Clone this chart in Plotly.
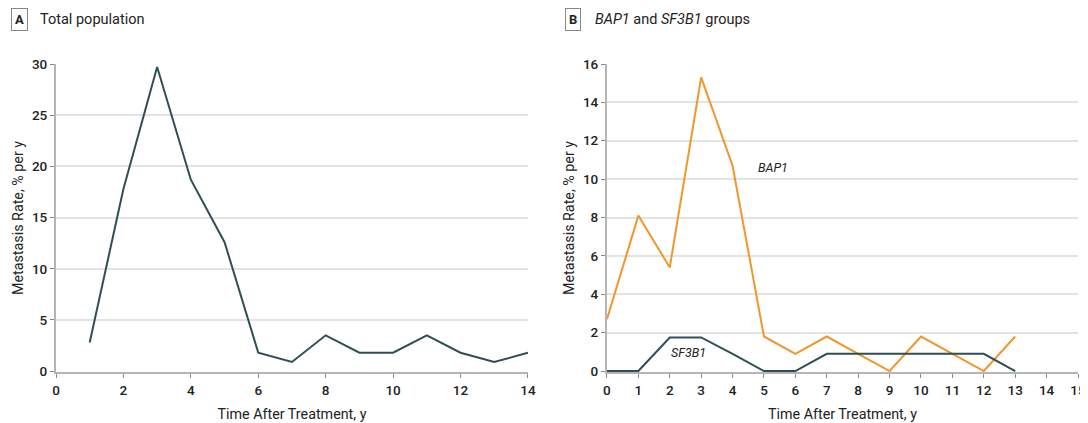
import plotly.graph_objects as go

# Data
years_a = [1, 2, 3, 4, 5, 6, 7, 8, 9, 10, 11, 12, 13, 14]
total_rate = [2.8, 17.8, 29.7, 18.7, 12.6, 1.8, 0.9, 3.5, 1.8, 1.8, 3.5, 1.8, 0.9, 1.8]

years_b = [0, 1, 2, 3, 4, 5, 6, 7, 8, 9, 10, 11, 12, 13]
bap1_rate = [2.7, 8.1, 5.4, 15.3, 10.7, 1.8, 0.9, 1.8, 0.9, 0.0, 1.8, 0.9, 0.0, 1.8]
sf3b1_rate = [0.0, 0.0, 1.75, 1.75, 0.9, 0.0, 0.0, 0.9, 0.9, 0.9, 0.9, 0.9, 0.9, 0.0]

xticks_a = [0, 2, 4, 6, 8, 10, 12, 14]
yticks_a = [0, 5, 10, 15, 20, 25, 30]
xticks_b = list(range(0, 16))
yticks_b = [0, 2, 4, 6, 8, 10, 12, 14, 16]

FONT = "Roboto, Lato, sans-serif"
DARK = "#2f4f55"
ORANGE = "#f0962e"
GRID = "#e3e3e3"
AXIS = "#b5b5b5"
TEXT = "#222222"

fig = go.Figure()
fig.add_trace(go.Scatter(x=years_a, y=total_rate, mode="lines",
                         line=dict(color=DARK, width=2), xaxis="x", yaxis="y",
                         showlegend=False, hoverinfo="skip"))
fig.add_trace(go.Scatter(x=years_b, y=bap1_rate, mode="lines",
                         line=dict(color=ORANGE, width=2), xaxis="x2", yaxis="y2",
                         showlegend=False, hoverinfo="skip"))
fig.add_trace(go.Scatter(x=years_b, y=sf3b1_rate, mode="lines",
                         line=dict(color=DARK, width=2), xaxis="x2", yaxis="y2",
                         showlegend=False, hoverinfo="skip"))

axis_common = dict(showline=True, linecolor=AXIS, linewidth=2, ticks="outside",
                   ticklen=4, tickwidth=1, tickcolor="#888888",
                   tickfont=dict(size=13.5, color=TEXT, family=FONT, weight=500),
                   zeroline=False, automargin=False)
title_font = dict(size=14.3, family=FONT, color=TEXT)

# The page body has an 8px margin, so the figure is 8px smaller than the window.
fig.update_layout(
    width=1080, height=415,
    margin=dict(l=48, r=10, t=56, b=51),
    paper_bgcolor="white", plot_bgcolor="white",
    font=dict(family=FONT, color=TEXT),
    xaxis=dict(domain=[0, 0.4618], range=[0, 14], tickvals=xticks_a, showgrid=False,
               anchor="y", ticklabelstandoff=1,
               title=dict(text="Time After Treatment, y", font=title_font, standoff=12),
               **axis_common),
    yaxis=dict(domain=[0, 1], range=[-0.08, 30], tickvals=yticks_a, showgrid=True,
               gridcolor=GRID, gridwidth=1.5, anchor="x",
               title=dict(text="Metastasis Rate, % per y", font=title_font, standoff=5),
               **axis_common),
    xaxis2=dict(domain=[0.5391, 1.0], range=[0, 15], tickvals=xticks_b, showgrid=False,
                anchor="y2", ticklabelstandoff=1,
                title=dict(text="Time After Treatment, y", font=title_font, standoff=12),
                **axis_common),
    yaxis2=dict(domain=[0, 1], range=[-0.05, 16], tickvals=yticks_b, showgrid=True,
                gridcolor=GRID, gridwidth=1.5, anchor="x2",
                title=dict(text="Metastasis Rate, % per y", font=title_font, standoff=5),
                **axis_common),
)

annotations = [
    dict(text="<b>A</b>", xref="paper", yref="paper", x=-0.0445, y=1.143, xanchor="left", yanchor="middle",
         showarrow=False, font=dict(size=13, family=FONT, color=TEXT),
         bordercolor="#888888", borderwidth=1, borderpad=3, bgcolor="white"),
    dict(text="Total population", xref="paper", yref="paper", x=-0.0176, y=1.143, xanchor="left", yanchor="middle",
         showarrow=False, font=dict(size=14.5, family=FONT, color=TEXT)),
    dict(text="<b>B</b>", xref="paper", yref="paper", x=0.4985, y=1.143, xanchor="left", yanchor="middle",
         showarrow=False, font=dict(size=13, family=FONT, color=TEXT),
         bordercolor="#888888", borderwidth=1, borderpad=3, bgcolor="white"),
    dict(text="<i>BAP1</i> and <i>SF3B1</i> groups", xref="paper", yref="paper", x=0.5255, y=1.143,
         xanchor="left", yanchor="middle",
         showarrow=False, font=dict(size=14.5, family=FONT, color=TEXT)),
    dict(text="<i>BAP1</i>", xref="x2", yref="y2", x=4.75, y=10.6, xanchor="left", yanchor="middle",
         showarrow=False, font=dict(size=12.5, family=FONT, color=TEXT)),
    dict(text="<i>SF3B1</i>", xref="x2", yref="y2", x=2.6, y=0.95, xanchor="center", yanchor="middle",
         showarrow=False, font=dict(size=12.5, family=FONT, color=TEXT)),
]
fig.update_layout(annotations=annotations)

fig.write_html("out.html")
